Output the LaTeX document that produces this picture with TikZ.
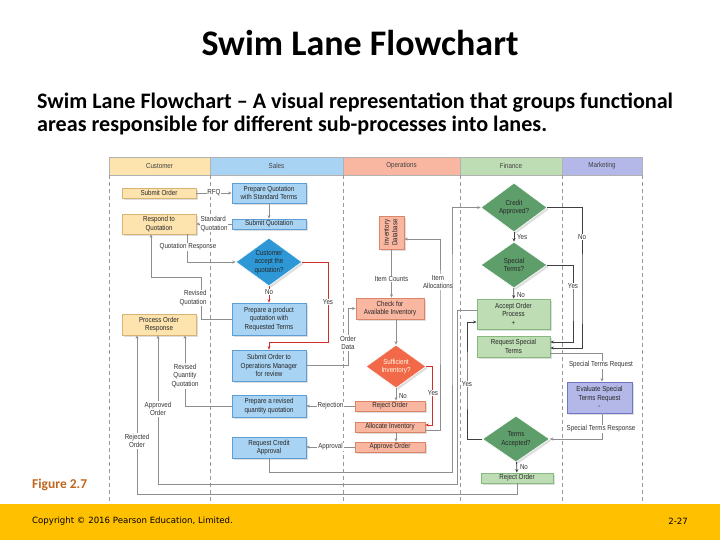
\documentclass[tikz,border=0pt]{standalone}
\usepackage{fontspec}
\setmainfont{Carlito}
\newfontfamily\cond[FakeStretch=0.85]{Liberation Sans}
\newfontfamily\footfont{DejaVu Sans}
\usetikzlibrary{arrows.meta,shapes.geometric,shadows}
\definecolor{custF}{HTML}{FDE3AE}
\definecolor{custD}{HTML}{D9B276}
\definecolor{salesF}{HTML}{A9D3F2}
\definecolor{salesD}{HTML}{5E9ED6}
\definecolor{salesDia}{HTML}{2E98D6}
\definecolor{opsF}{HTML}{F9B6A0}
\definecolor{opsD}{HTML}{DC8466}
\definecolor{opsDia}{HTML}{F2694A}
\definecolor{finF}{HTML}{BEDDB4}
\definecolor{finD}{HTML}{86B97E}
\definecolor{finDia}{HTML}{5E9E6A}
\definecolor{mkF}{HTML}{B4B8E8}
\definecolor{mkD}{HTML}{6E74C6}
\definecolor{lineG}{HTML}{8E8E8E}
\definecolor{redL}{HTML}{D42E2A}
\definecolor{gold}{HTML}{FFC000}
\definecolor{figC}{HTML}{C0651C}
\begin{document}
\begin{tikzpicture}[x=1pt,y=-1pt,
  dfont/.style={font=\cond\fontsize{7.3}{8.5}\selectfont},
  shad/.style={drop shadow={shadow xshift=1.8pt,shadow yshift=-1.8pt,fill=black,opacity=0.13}},
  box/.style={rectangle,draw,line width=0.8pt,inner sep=1pt,align=center,dfont,text=black!85,shad},
  cbox/.style={box,fill=custF,draw=custD,minimum width=74pt},
  sbox/.style={box,fill=salesF,draw=salesD,minimum width=74pt},
  obox/.style={box,fill=opsF,draw=opsD,minimum width=70pt},
  fbox/.style={box,fill=finF,draw=finD,minimum width=73pt},
  mbox/.style={box,fill=mkF,draw=mkD,minimum width=65pt},
  dia/.style={diamond,draw=white,line width=0.6pt,inner sep=-6pt,align=center,dfont,shad},
  hdr/.style={rectangle,draw=black!30,line width=0.5pt,minimum height=18pt,inner sep=0pt,dfont,text=black!75},
  lane/.style={draw=black!40,line width=0.6pt,dash pattern=on 4pt off 3pt},
  conn/.style={draw=lineG,line width=0.8pt,-{Stealth[length=3.5pt,width=3pt]}},
  dconn/.style={conn,draw=black!75},
  rconn/.style={conn,draw=redL,line width=0.9pt},
  lbl/.style={fill=white,inner sep=0.8pt,align=center,dfont,text=black!80},
  lblc/.style={inner sep=0.8pt,align=left,dfont,text=black!80}]
\useasboundingbox (0,0) rectangle (720,540);
% footer band
\fill[gold] (0,504) rectangle (720,540);
% titles
\node[font=\bfseries\fontsize{36}{40}\selectfont,anchor=base] (title) at (360,55.5) {Swim Lane Flowchart};
\node[font=\bfseries\fontsize{22.1}{24}\selectfont,anchor=base west,inner sep=0pt] (sub1) at (37,109) {Swim Lane Flowchart -- A visual representation that groups functional};
\node[font=\bfseries\fontsize{22.1}{24}\selectfont,anchor=base west,inner sep=0pt] (sub2) at (37,131.5) {areas responsible for different sub-processes into lanes.};
\node[font=\bfseries\fontsize{13.5}{15}\selectfont,text=figC,anchor=base west,inner sep=0pt] (fig) at (32,488.5) {Figure 2.7};
\node[font=\footfont\fontsize{8.6}{10}\selectfont,anchor=west,inner sep=0pt] (copy) at (32,521) {Copyright © 2016 Pearson Education, Limited.};
\node[font=\footfont\fontsize{8.6}{10}\selectfont,anchor=east,inner sep=0pt] (pg) at (688,521) {2-27};
% header
\node[hdr,fill=custF,minimum width=101pt] (hCust) at (159.5,166) {Customer};
\node[hdr,fill=salesF,minimum width=133pt] (hSales) at (276.5,166) {Sales};
\node[hdr,fill=opsF,minimum width=117pt] (hOps) at (401.5,166) {Operations};
\node[hdr,fill=finF,minimum width=102pt] (hFin) at (511,166) {Finance};
\node[hdr,fill=mkF,minimum width=80pt] (hMk) at (602,166) {Marketing};
\foreach \x in {109,210,343,460,562,642} \draw[lane] (\x,175) -- (\x,503);
% customer
\node[cbox,minimum height=10pt] (so) at (159,193) {Submit Order};
\node[cbox,minimum height=20pt] (rq) at (159,224) {Respond to\\Quotation};
\node[cbox,minimum height=21pt] (por) at (159,324.5) {Process Order\\Response};
% sales
\node[sbox,minimum height=20pt] (pq) at (269,193) {Prepare Quotation\\with Standard Terms};
\node[sbox,minimum height=10pt] (sq) at (269,224) {Submit Quotation};
\node[dia,fill=salesDia,text=black!85,minimum width=66pt,minimum height=48pt] (cd) at (269,262) {Customer\\accept the\\quotation?};
\node[sbox,minimum height=32pt] (ppq) at (269,319) {Prepare a product\\quotation with\\Requested Terms};
\node[sbox,minimum height=31pt] (som) at (269,365.5) {Submit Order to\\Operations Manager\\for review};
\node[sbox,minimum height=22pt] (prq) at (269,406) {Prepare a revised\\quantity quotation};
\node[sbox,minimum height=21pt] (rca) at (269,447.5) {Request Credit\\Approval};
% operations
\node[obox,minimum width=25pt,minimum height=33pt] (idb) at (391.5,232.5) {\rotatebox{90}{\begin{tabular}{@{}c@{}}Inventory\\Database\end{tabular}}};
\node[obox,minimum width=68pt,minimum height=21pt] (cai) at (390,308.5) {Check for\\Available Inventory};
\node[dia,fill=opsDia,text=white!90!yellow,minimum width=60pt,minimum height=43pt] (si) at (396,366.5) {Sufficient\\Inventory?};
\node[obox,minimum height=10pt] (ro) at (390,406) {Reject Order};
\node[obox,minimum height=10pt] (ai) at (390,427) {Allocate Inventory};
\node[obox,minimum height=10pt] (ao) at (390,447) {Approve Order};
% finance
\node[dia,fill=finDia,text=black!85,minimum width=66pt,minimum height=49pt] (ca) at (514,207.5) {Credit\\Approved?};
\node[dia,fill=finDia,text=black!85,minimum width=66pt,minimum height=46pt] (st) at (514,265) {Special\\Terms?};
\node[fbox,minimum height=30pt] (aop) at (513.5,314) {Accept Order\\Process\\+};
\node[fbox,minimum height=21pt] (rst) at (513.5,346.5) {Request Special\\Terms};
\node[dia,fill=finDia,text=black!85,minimum width=67pt,minimum height=46pt] (ta) at (516,439) {Terms\\Accepted?};
\node[fbox,minimum width=72pt,minimum height=10pt] (rof) at (517,478) {Reject Order};
% marketing
\node[mbox,minimum height=31pt] (est) at (599.5,397.5) {Evaluate Special\\Terms Request\\-};
% connectors: customer / sales
\draw[conn] (so) -- node[lbl]{RFQ} (pq);
\draw[conn] (pq) -- (sq);
\draw[conn] (sq) -- node[lbl,align=left]{Standard\\Quotation} (rq);
\draw[conn] ([xshift=28pt]rq.south) |- (cd.west);
\node[lbl] (lQR) at (188,247) {Quotation Response};
\draw[conn] (ppq.west) -| (201,277) -| ([xshift=-8pt]rq.south);
\node[lbl,align=right] (lRQ) at (193,298) {Revised\\Quotation};
\draw[rconn] (cd) -- node[lbl,pos=0.35]{No} (ppq);
\draw[rconn] (cd.east) -- (328,262) -- node[lbl]{Yes} (328,342) -| (som.north);
\draw[conn] (prq.west) -| ([xshift=26pt]por.south);
\node[lbl] (lRQQ) at (185,376) {Revised\\Quantity\\Quotation};
\draw[conn] ([yshift=4pt]aop.west) -| (457,484.5) -| ([xshift=-1pt]por.south);
\node[lbl] (lAO) at (158,409) {Approved\\Order};
\draw[conn] (rof.south) -- ++(0,11) -| ([xshift=-22pt]por.south);
\node[lbl] (lRO) at (137,441) {Rejected\\Order};
% operations
\draw[conn] (som.east) -- ++(42,0) |- (cai.west);
\node[lbl] (lOD) at (348,343) {Order\\Data};
\draw[conn] (idb.south) -- (idb.south |- cai.north);
\node[lbl] (lIC) at (391.5,279) {Item Counts};
\draw[conn] ([yshift=-3pt]ai.east) -| (440,300) |- ([yshift=-6.5pt]idb.east);
\node[lbl] (lIA) at (438,282) {Item\\Allocations};
\draw[conn] ([xshift=6pt]cai.south) -- (si.north);
\draw[conn] (si.south) -- (si.south |- ro.north);
\node[lblc,anchor=west] (lNo1) at (398,396) {No};
\draw[rconn] (si.east) -- ++(6,0) |- ([yshift=2pt]ai.east);
\node[lbl] (lY1) at (433,393) {Yes};
\draw[conn] ([xshift=6pt]ai.south) -- ([xshift=6pt]ao.north);
\draw[conn] (ro) -- node[lbl]{Rejection} (prq);
\draw[conn] (ao.west) -- (ao.west -| rca.east) node[lbl,pos=0.5]{Approval};
\draw[conn] (rca.south) -- ++(0,14) -| (452,300) |- (ca.west);
% finance
\draw[dconn] (ca) -- (st);
\node[lblc,anchor=west] (lY2) at (516,237) {Yes};
\draw[dconn] (st) -- (aop);
\node[lblc,anchor=west] (lN2) at (516,295) {No};
\draw[dconn] (ca.east) -| (582,300) |- ([yshift=-1.5pt]rst.east);
\node[lbl] (lN3) at (582,237) {No};
\draw[dconn] (st.east) -| (573,300) |- ([yshift=4.5pt]rst.east);
\node[lbl] (lY3) at (573,286) {Yes};
\draw[conn] ([yshift=-6.5pt]rst.east) -| ([xshift=2.5pt]est.north);
\node[lbl] (lSTR) at (601,365) {Special Terms Request};
\draw[conn] ([xshift=2.5pt]est.south) |- (ta.east);
\node[lbl] (lSTP) at (601,429) {Special Terms Response};
\draw[dconn] (ta.west) -| (467,380) |- ([yshift=-8pt]aop.west);
\node[lbl] (lY4) at (467,384) {Yes};
\draw[dconn] (ta) -- (rof);
\node[lblc,anchor=west] (lN4) at (519,467) {No};
\end{tikzpicture}
\end{document}
